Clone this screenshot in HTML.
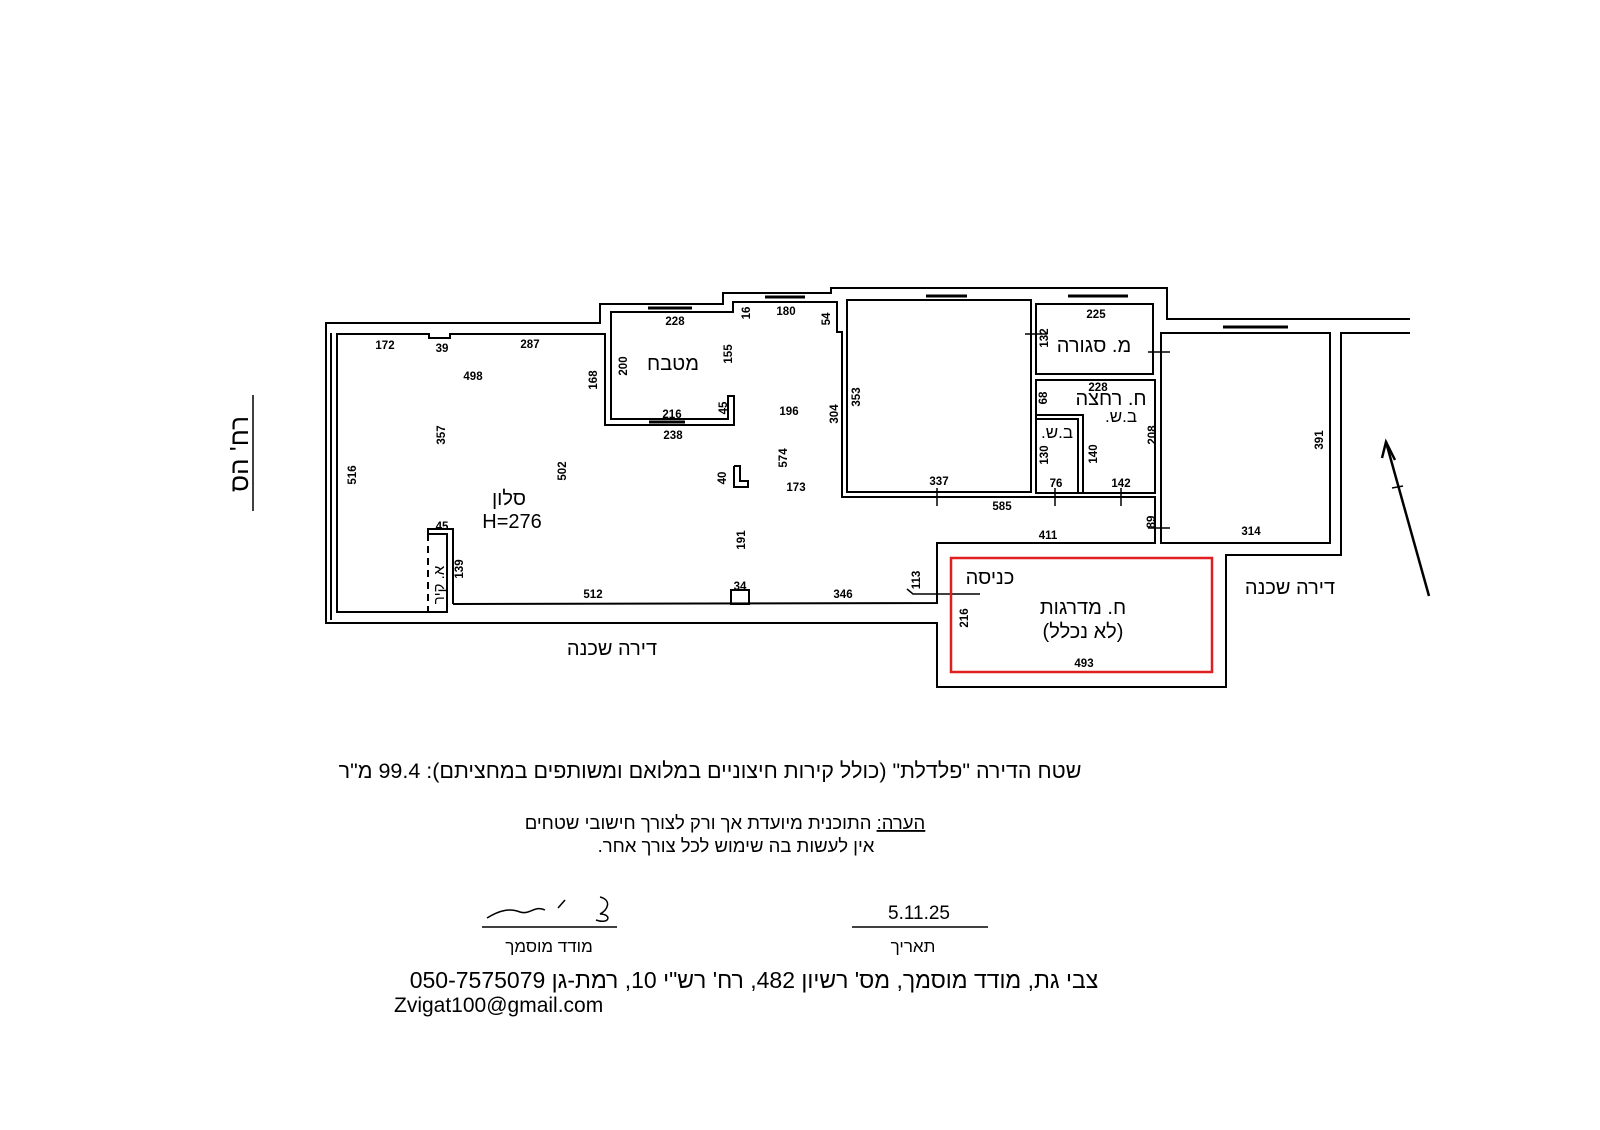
<!DOCTYPE html>
<html><head><meta charset="utf-8"><style>
html,body{margin:0;padding:0;background:#fff;}
svg{display:block;}
text{font-family:"Liberation Sans","DejaVu Sans",sans-serif;fill:#000;}
.d{font-size:11.5px;font-weight:bold;}
.h{font-size:20px;}
</style></head><body>
<svg width="1600" height="1130" viewBox="0 0 1600 1130" xmlns="http://www.w3.org/2000/svg">
<g fill="none" stroke="#000" stroke-width="2">
<polyline points="1410,333 1341,333 1341,555 1226,555 1226,687 937,687 937,623 326,623 326,323 600,323 600,304 723,304 723,293 831,293 831,288 1167,288 1167,319 1410,319"/>
<line x1="331" y1="333" x2="331" y2="620"/>
<polyline points="453,604 937,603 937,543 1155,543 1155,497 842,497 842,332 837,332 837,302 733,302 733,312 611,312 611,419 728,419 728,396 734,396 734,425 605,425 605,334 450,334 450,338 429,338 429,334 337,334 337,612 447,612 447,534 428,534 428,529 453,529 453,604"/>
<line x1="428" y1="534" x2="428" y2="612" stroke-dasharray="7,5"/>
<rect x="847" y="300" width="184" height="192"/>
<rect x="1036" y="304" width="117" height="70"/>
<rect x="1036" y="380" width="119" height="113"/>
<rect x="1036" y="419" width="42" height="74"/>
<polyline points="1036,415 1083,415 1083,493"/>
<rect x="1161" y="333" width="169" height="210"/>
<polyline points="734,466 734,487 748,487 748,481 740,481 740,466 734,466"/>
<rect x="731" y="590" width="18" height="14"/>
<line x1="1025" y1="334" x2="1047" y2="334" stroke-width="1.5"/>
<line x1="1148" y1="352" x2="1170" y2="352" stroke-width="1.5"/>
<line x1="1148" y1="528" x2="1170" y2="528" stroke-width="1.5"/>
<line x1="937" y1="488" x2="937" y2="506" stroke-width="1.5"/>
<line x1="1055" y1="488" x2="1055" y2="506" stroke-width="1.5"/>
<line x1="1121" y1="488" x2="1121" y2="506" stroke-width="1.5"/>
<polyline points="907,589 913,594 980,594" stroke-width="1.5"/>
<g stroke-width="3">
<line x1="648" y1="308" x2="692" y2="308"/>
<line x1="765" y1="297" x2="805" y2="297"/>
<line x1="926" y1="296" x2="967" y2="296"/>
<line x1="1068" y1="296" x2="1128" y2="296"/>
<line x1="1223" y1="327" x2="1288" y2="327"/>
<line x1="649" y1="422" x2="685" y2="422"/>
</g>
<rect x="951" y="558" width="261" height="114" stroke="#e02020" stroke-width="2.5"/>
<line x1="1429" y1="596" x2="1386" y2="442" stroke-width="2.5"/>
<polyline points="1382,458 1386,442 1395,460" stroke-width="2.5"/>
<line x1="1392" y1="488" x2="1403" y2="486" stroke-width="1.5"/>
<line x1="253" y1="395" x2="253" y2="511" stroke-width="1.5"/>
<line x1="482" y1="927" x2="617" y2="927" stroke-width="1.5"/>
<line x1="852" y1="927" x2="988" y2="927" stroke-width="1.5"/>
<path d="M487,918 C500,910 510,908 520,912 C530,915 535,905 545,910 M558,908 L565,900 M600,897 C612,900 608,910 600,914 C612,914 610,925 596,920" stroke-width="1.5"/>
</g>
<g class="d" text-anchor="middle">
<text x="385" y="349">172</text><text x="442" y="352">39</text><text x="530" y="348">287</text>
<text x="473" y="380">498</text>
<text transform="translate(445,435) rotate(-90)">357</text>
<text transform="translate(356,475) rotate(-90)">516</text>
<text transform="translate(566,471) rotate(-90)">502</text>
<text transform="translate(597,380) rotate(-90)">168</text>
<text x="442" y="530">45</text>
<text transform="translate(463,569) rotate(-90)">139</text>
<text x="593" y="598">512</text><text x="740" y="590">34</text><text x="843" y="598">346</text>
<text transform="translate(920,580) rotate(-90)">113</text>
<text transform="translate(745,540) rotate(-90)">191</text>
<text transform="translate(726,478) rotate(-90)">40</text>
<text x="796" y="491">173</text>
<text transform="translate(787,458) rotate(-90)">574</text>
<text x="789" y="415">196</text>
<text transform="translate(838,414) rotate(-90)">304</text>
<text transform="translate(860,397) rotate(-90)">353</text>
<text x="675" y="325">228</text>
<text transform="translate(627,366) rotate(-90)">200</text>
<text transform="translate(732,354) rotate(-90)">155</text>
<text x="672" y="418">216</text>
<text transform="translate(727,408) rotate(-90)">45</text>
<text x="673" y="439">238</text>
<text transform="translate(750,313) rotate(-90)">16</text>
<text x="786" y="315">180</text>
<text transform="translate(830,319) rotate(-90)">54</text>
<text x="1096" y="318">225</text>
<text transform="translate(1048,338) rotate(-90)">132</text>
<text x="1098" y="391">228</text>
<text transform="translate(1047,398) rotate(-90)">68</text>
<text transform="translate(1048,455) rotate(-90)">130</text>
<text transform="translate(1097,454) rotate(-90)">140</text>
<text transform="translate(1156,435) rotate(-90)">208</text>
<text x="1056" y="487">76</text><text x="1121" y="487">142</text>
<text x="939" y="485">337</text><text x="1002" y="510">585</text><text x="1048" y="539">411</text>
<text transform="translate(1155,522) rotate(-90)">89</text>
<text x="1251" y="535">314</text>
<text transform="translate(1323,440) rotate(-90)">391</text>
<text transform="translate(968,618) rotate(-90)">216</text>
<text x="1084" y="667">493</text>
</g>
<g class="h" text-anchor="middle">
<text x="509" y="505" direction="rtl">סלון</text>
<text x="512" y="528">H=276</text>
<text x="673" y="370" direction="rtl">מטבח</text>
<text x="1094" y="352" direction="rtl">מ. סגורה</text>
<text x="1111" y="405" direction="rtl">ח. רחצה</text>
<text x="1121" y="422" direction="rtl" font-size="17">ב.ש.</text>
<text x="1057" y="438" direction="rtl" font-size="17">ב.ש.</text>
<text x="990" y="584" direction="rtl">כניסה</text>
<text x="1083" y="614" direction="rtl">ח. מדרגות</text>
<text x="1083" y="638" direction="rtl">(לא נכלל)</text>
<text x="1290" y="594" direction="rtl">דירה שכנה</text>
<text x="612" y="655" direction="rtl">דירה שכנה</text>
<text transform="translate(444,585) rotate(-90)" direction="rtl" font-size="15">א. קיר</text>
<text transform="translate(248,454) rotate(-90)" direction="rtl" font-size="26">רח' הס</text>
</g>
<g text-anchor="middle">
<text x="710" y="778" font-size="21.5" direction="rtl">שטח הדירה "פלדלת" (כולל קירות חיצוניים במלואם ומשותפים במחציתם): 99.4 מ"ר</text>
<text x="725" y="829" font-size="18.5" direction="rtl"><tspan text-decoration="underline">הערה:</tspan> התוכנית מיועדת אך ורק לצורך חישובי שטחים</text>
<text x="736" y="852" font-size="18.5" direction="rtl">אין לעשות בה שימוש לכל צורך אחר.</text>
<text x="919" y="919" font-size="19">5.11.25</text>
<text x="913" y="952" font-size="17" direction="rtl">תאריך</text>
<text x="549" y="952" font-size="17" direction="rtl">מודד מוסמך</text>
<text x="754" y="988" font-size="23" direction="rtl">צבי גת, מודד מוסמך, מס' רשיון 482, רח' רש"י 10, רמת-גן 050-7575079</text>
</g>
<text x="394" y="1012" font-size="21">Zvigat100@gmail.com</text>
</svg>
</body></html>
